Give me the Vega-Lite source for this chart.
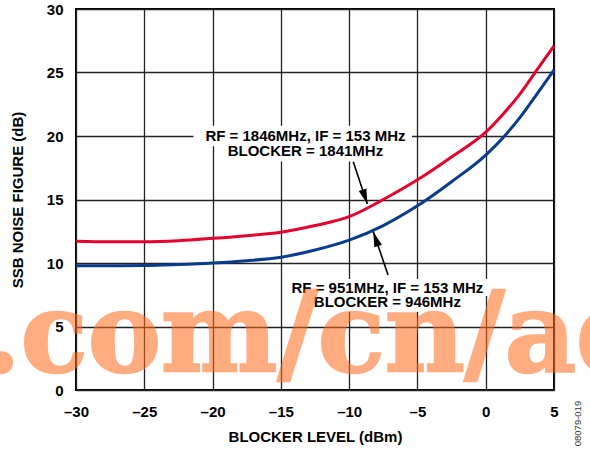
{
  "$schema": "https://vega.github.io/schema/vega-lite/v6.json",
  "width": 478,
  "height": 381,
  "autosize": "none",
  "padding": {"left": 76, "top": 9, "right": 36, "bottom": 62},
  "background": "white",
  "config": {
    "font": "Liberation Sans",
    "view": {"stroke": "#000", "strokeWidth": 2},
    "axis": {
      "domain": false,
      "ticks": false,
      "grid": true,
      "gridColor": "#222222",
      "gridWidth": 1.3,
      "gridOpacity": 1,
      "labelFont": "Liberation Sans",
      "labelFontWeight": "bold",
      "labelFontSize": 15,
      "labelColor": "#000",
      "labelFlush": false,
      "titleFont": "Liberation Sans",
      "titleFontWeight": "bold",
      "titleFontSize": 15,
      "titleColor": "#000"
    }
  },
  "datasets": {
    "curves": [
      {"series": "RF1846", "x": -30, "y": 11.72},
      {"series": "RF1846", "x": -27.5, "y": 11.68},
      {"series": "RF1846", "x": -25, "y": 11.68},
      {"series": "RF1846", "x": -22.5, "y": 11.76},
      {"series": "RF1846", "x": -20, "y": 11.94},
      {"series": "RF1846", "x": -17.5, "y": 12.15},
      {"series": "RF1846", "x": -15, "y": 12.42},
      {"series": "RF1846", "x": -12.5, "y": 12.95},
      {"series": "RF1846", "x": -10, "y": 13.65},
      {"series": "RF1846", "x": -7.5, "y": 15.0},
      {"series": "RF1846", "x": -5, "y": 16.55},
      {"series": "RF1846", "x": -2.5, "y": 18.35},
      {"series": "RF1846", "x": 0, "y": 20.3},
      {"series": "RF1846", "x": 1.25, "y": 21.7},
      {"series": "RF1846", "x": 2.5, "y": 23.3},
      {"series": "RF1846", "x": 3.75, "y": 25.2},
      {"series": "RF1846", "x": 5, "y": 27.1},
      {"series": "RF951", "x": -30, "y": 9.78},
      {"series": "RF951", "x": -27.5, "y": 9.79},
      {"series": "RF951", "x": -25, "y": 9.8},
      {"series": "RF951", "x": -22.5, "y": 9.88},
      {"series": "RF951", "x": -20, "y": 10.0},
      {"series": "RF951", "x": -17.5, "y": 10.18},
      {"series": "RF951", "x": -15, "y": 10.45},
      {"series": "RF951", "x": -12.5, "y": 11.02},
      {"series": "RF951", "x": -10, "y": 11.8},
      {"series": "RF951", "x": -7.5, "y": 12.95},
      {"series": "RF951", "x": -5, "y": 14.5},
      {"series": "RF951", "x": -2.5, "y": 16.4},
      {"series": "RF951", "x": 0, "y": 18.5},
      {"series": "RF951", "x": 1.25, "y": 19.85},
      {"series": "RF951", "x": 2.5, "y": 21.45},
      {"series": "RF951", "x": 3.75, "y": 23.3},
      {"series": "RF951", "x": 5, "y": 25.2}
    ],
    "boxes": [
      {"x": -21.4, "x2": -5.4, "y": 20.8, "y2": 19.2},
      {"x": -19.7, "x2": -7.2, "y": 19.4, "y2": 18.0},
      {"x": -14.8, "x2": 0.5, "y": 8.75, "y2": 7.4},
      {"x": -13.3, "x2": -1.4, "y": 7.55, "y2": 6.15}
    ],
    "notes": [
      {"x": -13.2, "y": 20.0, "text": "RF = 1846MHz, IF = 153 MHz"},
      {"x": -13.2, "y": 18.79, "text": "BLOCKER = 1841MHz"},
      {"x": -7.2, "y": 8.03, "text": "RF = 951MHz, IF = 153 MHz"},
      {"x": -7.2, "y": 6.93, "text": "BLOCKER = 946MHz"}
    ],
    "arrows": [
      {"id": "a1", "x": -9.7, "y": 17.98, "x2": -8.67, "y2": 14.65},
      {"id": "a2", "x": -7.15, "y": 9.06, "x2": -8.23, "y2": 12.46}
    ],
    "watermark": [
      {"x": -36.85, "y": 1.5, "text": ".com/cn/ad"}
    ],
    "figid": [
      {"x": 6.79, "y": -2.64, "text": "08079-019"}
    ]
  },
  "layer": [
    {
      "data": {"name": "boxes"},
      "mark": {"type": "rect", "fill": "white", "stroke": null},
      "encoding": {
        "x": {"field": "x", "type": "quantitative", "title": "BLOCKER LEVEL (dBm)",
          "scale": {"domain": [-30, 5], "nice": false, "zero": false},
          "axis": {"values": [-30, -25, -20, -15, -10, -5, 0, 5], "labelPadding": 14, "titlePadding": 10,
            "labelExpr": "datum.value < 0 ? '\u2013' + abs(datum.value) + '\u2002' : datum.label"}},
        "x2": {"field": "x2"},
        "y": {"field": "y", "type": "quantitative", "title": "SSB NOISE FIGURE (dB)",
          "scale": {"domain": [0, 30], "nice": false, "zero": false},
          "axis": {"values": [0, 5, 10, 15, 20, 25, 30], "labelPadding": 13, "titlePadding": 21}},
        "y2": {"field": "y2"}
      }
    },
    {
      "data": {"name": "curves"},
      "mark": {"type": "line", "interpolate": "monotone", "strokeWidth": 3},
      "encoding": {
        "x": {"field": "x", "type": "quantitative", "title": "BLOCKER LEVEL (dBm)"},
        "y": {"field": "y", "type": "quantitative", "title": "SSB NOISE FIGURE (dB)"},
        "color": {"field": "series", "type": "nominal",
          "scale": {"domain": ["RF1846", "RF951"], "range": ["#E4032E", "#0A3C8C"]},
          "legend": null}
      }
    },
    {
      "data": {"name": "notes"},
      "mark": {"type": "text", "font": "Liberation Sans", "fontWeight": "bold", "fontSize": 15, "align": "center", "baseline": "middle", "color": "#000"},
      "encoding": {
        "x": {"field": "x", "type": "quantitative", "title": "BLOCKER LEVEL (dBm)"},
        "y": {"field": "y", "type": "quantitative", "title": "SSB NOISE FIGURE (dB)"},
        "text": {"field": "text"}
      }
    },
    {
      "data": {"name": "arrows"},
      "mark": {"type": "rule", "color": "#000", "strokeWidth": 1.6},
      "encoding": {
        "x": {"field": "x", "type": "quantitative", "title": "BLOCKER LEVEL (dBm)"},
        "y": {"field": "y", "type": "quantitative", "title": "SSB NOISE FIGURE (dB)"},
        "x2": {"field": "x2"},
        "y2": {"field": "y2"}
      }
    },
    {
      "data": {"name": "arrows"},
      "transform": [{"filter": "datum.id === 'a1'"}],
      "mark": {"type": "point", "shape": "M0,0L-0.27,1L0.27,1Z", "size": 900, "filled": true, "color": "#000", "opacity": 1, "angle": 161.7},
      "encoding": {
        "x": {"field": "x2", "type": "quantitative", "title": "BLOCKER LEVEL (dBm)"},
        "y": {"field": "y2", "type": "quantitative", "title": "SSB NOISE FIGURE (dB)"}
      }
    },
    {
      "data": {"name": "arrows"},
      "transform": [{"filter": "datum.id === 'a2'"}],
      "mark": {"type": "point", "shape": "M0,0L-0.27,1L0.27,1Z", "size": 900, "filled": true, "color": "#000", "opacity": 1, "angle": 341.3},
      "encoding": {
        "x": {"field": "x2", "type": "quantitative", "title": "BLOCKER LEVEL (dBm)"},
        "y": {"field": "y2", "type": "quantitative", "title": "SSB NOISE FIGURE (dB)"}
      }
    },
    {
      "data": {"name": "figid"},
      "mark": {"type": "text", "font": "Liberation Sans", "fontSize": 9.5, "angle": 270, "align": "center", "baseline": "middle", "color": "#333"},
      "encoding": {
        "x": {"field": "x", "type": "quantitative", "title": "BLOCKER LEVEL (dBm)"},
        "y": {"field": "y", "type": "quantitative", "title": "SSB NOISE FIGURE (dB)"},
        "text": {"field": "text"}
      }
    },
    {
      "data": {"name": "watermark"},
      "mark": {"type": "text", "font": "DejaVu Serif", "fontWeight": "bold", "fontSize": 110, "align": "left", "baseline": "alphabetic", "color": "#FF6A1A", "stroke": "#FF6A1A", "strokeWidth": 2.5, "opacity": 0.55},
      "encoding": {
        "x": {"field": "x", "type": "quantitative", "title": "BLOCKER LEVEL (dBm)"},
        "y": {"field": "y", "type": "quantitative", "title": "SSB NOISE FIGURE (dB)"},
        "text": {"field": "text"}
      }
    }
  ]
}
